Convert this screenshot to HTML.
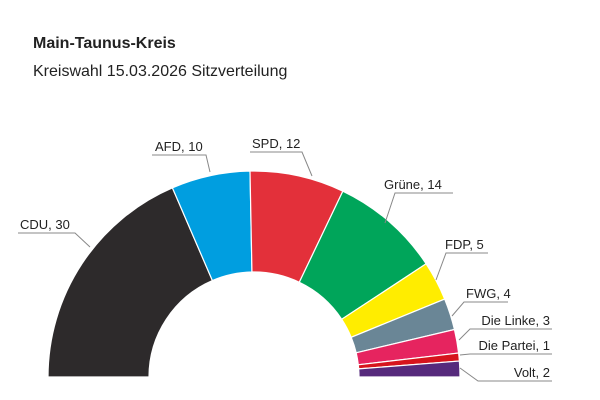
<!DOCTYPE html>
<html><head><meta charset="utf-8"><style>
html,body{margin:0;padding:0;background:#fff}
svg{display:block}
text{font-family:"Liberation Sans",sans-serif;fill:#222}
</style></head><body>
<svg id="s" width="600" height="400" viewBox="0 0 600 400">
<text x="33" y="48" font-size="16" font-weight="bold">Main-Taunus-Kreis</text>
<text x="33" y="76" font-size="16">Kreiswahl 15.03.2026 Sitzverteilung</text>
<g id="arcs"></g>
<g stroke="#888" stroke-width="1" fill="none">
<polyline points="18,233 75,233 90,247"/>
<polyline points="152,155 206,155 210,172"/>
<polyline points="250,152 302,152 312,176"/>
<polyline points="385,223 395,193 453,193"/>
<polyline points="436,280 446,253 488,253"/>
<polyline points="452,316 464,302 508,302"/>
<polyline points="459,340 470,329 552,329"/>
<polyline points="460,355 470,354 552,354"/>
<polyline points="460,368 478,381 552,381"/>
</g>
<g font-size="13">
<text x="20" y="229">CDU, 30</text>
<text x="155" y="151">AFD, 10</text>
<text x="252" y="148">SPD, 12</text>
<text x="384" y="189">Grüne, 14</text>
<text x="445" y="249">FDP, 5</text>
<text x="466" y="298">FWG, 4</text>
<text x="550" y="325" text-anchor="end">Die Linke, 3</text>
<text x="550" y="350" text-anchor="end">Die Partei, 1</text>
<text x="550" y="377" text-anchor="end">Volt, 2</text>
</g>
</svg>
<script>
var d=[[30,"#2d2a2b"],[10,"#009ee0"],[12,"#e3303a"],[14,"#00a55a"],[5,"#ffed00"],[4,"#6a8696"],[3,"#e6245f"],[1,"#d6141d"],[2,"#562a7c"]];
var cx=254,cy=377,R=206,r=105,tot=81,acc=0,h="";
function p(a,rr){return (cx+rr*Math.cos(a)).toFixed(2)+","+(cy-rr*Math.sin(a)).toFixed(2);}
d.forEach(function(e){var a0=Math.PI*(1-acc/tot);acc+=e[0];var a1=Math.PI*(1-acc/tot);
h+='<path d="M'+p(a0,R)+' A'+R+','+R+' 0 0 1 '+p(a1,R)+' L'+p(a1,r)+' A'+r+','+r+' 0 0 0 '+p(a0,r)+' Z" fill="'+e[1]+'" stroke="#fff" stroke-width="1.2"/>';});
document.getElementById("arcs").innerHTML=h;
</script>
</body></html>
